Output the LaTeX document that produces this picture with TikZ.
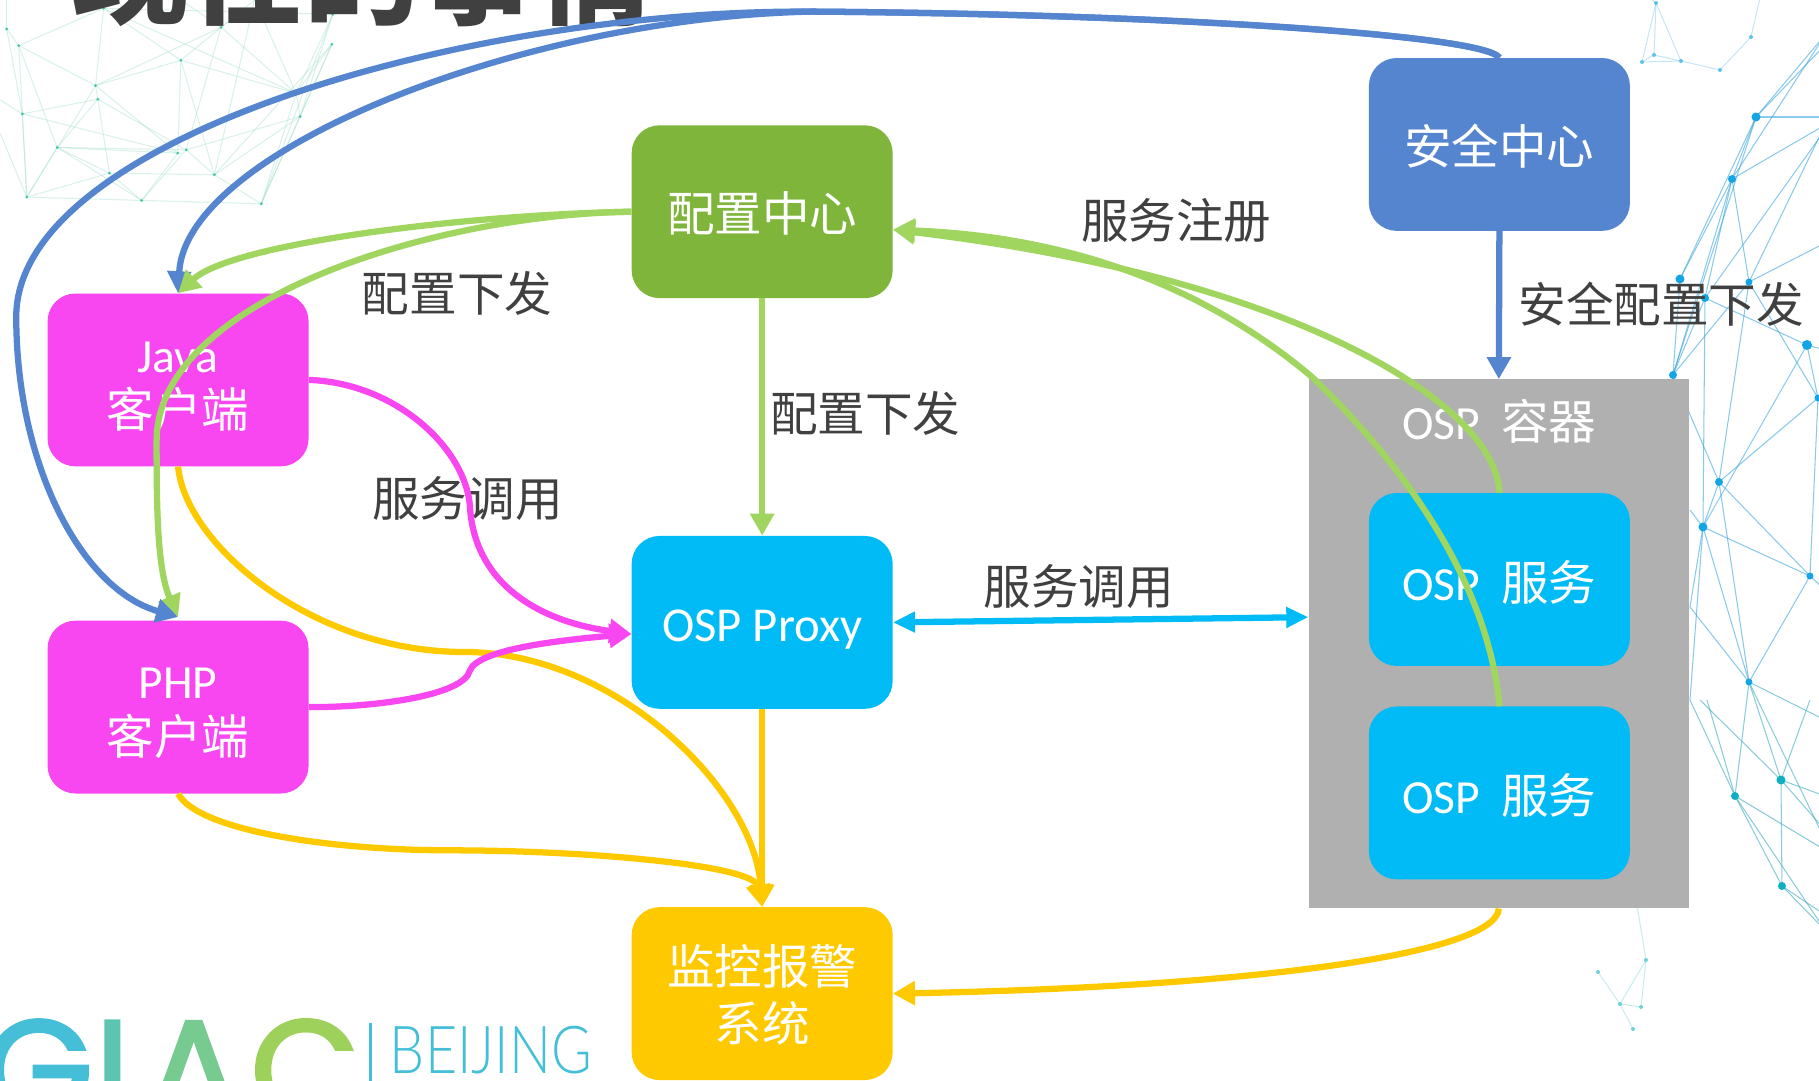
\documentclass[tikz,border=0pt]{standalone}
\usepackage{fontspec}
\usetikzlibrary{arrows.meta,calc}
\setmainfont{Carlito}
\newfontfamily\cj{Noto Sans CJK SC}
\newfontfamily\logofont[FakeBold=2.2]{Poppins}
\newfontfamily\thinfont{Lato Light}
\definecolor{cBlue}{HTML}{5585CF}
\definecolor{cGreen}{HTML}{7FB53B}
\definecolor{cLime}{HTML}{A0D660}
\definecolor{cPink}{HTML}{F847F0}
\definecolor{cCyan}{HTML}{00BBF5}
\definecolor{cYel}{HTML}{FFC900}
\definecolor{cGray}{HTML}{B0B0B0}
\definecolor{cText}{HTML}{404040}
\definecolor{mG}{RGB}{165,222,205}
\definecolor{mGd}{RGB}{60,200,160}
\definecolor{mB}{RGB}{60,165,220}
\definecolor{mBd}{RGB}{20,165,230}
\definecolor{mT}{RGB}{60,170,190}
\definecolor{mTd}{RGB}{15,175,195}
\definecolor{mS}{RGB}{120,195,235}
\definecolor{mSd}{RGB}{90,195,235}
\definecolor{mU}{RGB}{130,210,215}
\definecolor{mUd}{RGB}{110,210,215}
\definecolor{lg1}{RGB}{69,191,216}
\definecolor{lg2}{RGB}{92,196,176}
\definecolor{lg3}{RGB}{120,203,144}
\definecolor{lg4}{RGB}{158,208,92}
\tikzset{
  box/.style={draw=none,rounded corners=24pt,minimum width=225pt,minimum height=149pt,inner sep=0pt},
  boxtext/.style={inner sep=0pt,text=white,align=center,font=\fontsize{41}{47}\selectfont},
  lbl/.style={text=cText,inner sep=0pt,font=\fontsize{41}{47}\selectfont\cj},
  conn/.style={line width=5.4pt},
  tipped/.style={conn,-{Triangle[length=19pt,width=20pt]}},
  both/.style={conn,{Triangle[length=19pt,width=17pt]}-{Triangle[length=19pt,width=17pt]}},
  meshg/.style={line width=.9pt,color=#1,opacity=.6},
  meshl/.style={line width=.9pt,color=#1,opacity=.42},
  logotxt/.style={anchor=base,inner sep=0pt,text=#1,font=\fontsize{122}{122}\selectfont\logofont},
}
\begin{document}
\begin{tikzpicture}[x=1pt,y=-1pt]
\useasboundingbox (0,0) rectangle (1568,931.8);
\clip (0,0) rectangle (1568,931.8);

% left mesh (green)
\begin{scope}[x=.385pt,y=-.287pt]
\foreach \n/\p in {a/{15,87},b/{42,137},c/{232,25},d/{495,82},e/{745,43},f/{743,133},g/{405,181},h/{214,257},i/{219,298},j/{50,342},k/{663,280},l/{672,350},m/{128,443},n/{398,460},o/{417,450},p/{245,520},q/{480,525},r/{60,592},s/{317,602},t/{585,612},u/{0,300},v/{0,400},w/{15,0},x/{-20,87},y/{570,0},z/{405,0}}
  \coordinate (L\n) at (\p);
\foreach \u/\v in {a/b,a/j,a/w,b/c,b/h,b/m,b/r,c/h,c/g,c/k,d/h,d/g,d/o,d/k,d/z,d/y,g/k,g/n,g/h,g/q,h/i,h/n,h/r,i/o,i/p,i/j,i/m,j/r,j/n,u/j,v/r,m/r,m/n,m/o,m/p,m/s,p/q,p/s,p/r,r/s,s/t,s/n,s/o,q/o,q/t,q/l,e/k,e/t,f/k,f/t,f/q,k/l,k/t,l/o,l/t,y/k,y/q,e/l,f/l,c/e}
  \draw[meshl=mG] (L\u)--(L\v);
\foreach \n in {a,b,c,d,e,f,g,h,i,j,k,l,m,n,o,p,q,r,s,t}
  \fill[color=mGd] (L\n) circle [x radius=3.5,y radius=4.5];
\end{scope}

% right mesh
\begin{scope}[x=.862pt,y=-.862pt]
\foreach \n/\p in {A/{1756,117},B/{1732,179},C/{1680,279},D/{1749,282},E/{1705,298},F/{1807,345},G/{1673,375},H/{1818,398},I/{1719,482},J/{1703,527},K/{1810,576},L/{1749,682},M/{1781,780},N/{1735,796},O/{1782,886},T/{1825,35},T2/{1825,45},R1/{1825,117},R2/{1825,125},R3/{1825,130},R4/{1825,243},R5/{1825,350},R6/{1825,590},R7/{1825,720},R8/{1825,796},R9/{1825,830},R10/{1825,850},R11/{1825,930},R12/{1825,915},R13/{1825,840},R14/{1810,700},R15/{1690,700},R16/{1707,700},R17/{1700,700},s1/{1656,3},s2/{1654,55},s3/{1681,61},s4/{1720,70},s5/{1751,37},s6/{1760,-2},s0/{1642,62},s7/{1650,-2},b1/{1646,960},b2/{1598,972},b3/{1620,1004},b4/{1641,1007},b5/{1633,1029},b6/{1637,905},W1/{1690,510},W2/{1690,607},W3/{1690,700}}
  \coordinate (\n) at (\p);
\foreach \u/\v in {T/A,T2/A,T/B,A/R1,A/B,A/C,B/C,A/G,B/G,B/E,B/D,C/G,E/G,D/G,R2/B,R3/E,R2/D,D/R4,E/F,F/R5,D/H,F/H,H/K,E/J,D/I,F/J,H/I,I/K,J/K,K/R6,K/L,J/L,I/L,I/J,G/I,J/W1,J/W2,J/W3,W2/L}
  \draw[meshg=mB] (\u)--(\v);
\foreach \u/\v in {L/R7,L/M,N/L,N/R15,N/R16,M/R17,M/R14,M/O,N/O,N/R10,M/R8,M/R9,O/R11,N/R11,O/R12,L/R13}
  \draw[meshg=mT] (\u)--(\v);
\foreach \u/\v in {s1/s2,s1/s3,s2/s3,s3/s4,s4/s5,s5/s6,s0/s2,s0/s3,s1/s7,s0/s1}
  \draw[meshl=mS] (\u)--(\v);
\foreach \u/\v in {b6/b1,b1/b3,b1/b4,b3/b4,b2/b3,b3/b5}
  \draw[meshl=mU] (\u)--(\v);
\foreach \n/\r in {A/4.5,B/4,C/4.5,D/3.5,E/4,F/5,G/4,H/3.5,I/4,J/4.5,K/3.5,L/3.5}
  \fill[color=mBd] (\n) circle (\r);
\foreach \n/\r in {M/4.5,N/4,O/4}
  \fill[color=mTd] (\n) circle (\r);
\foreach \n in {s1,s2,s3,s4,s5,s0}
  \fill[color=mSd] (\n) circle (2);
\foreach \n in {b1,b2,b3,b4,b5}
  \fill[color=mUd] (\n) circle (2);
\end{scope}

% clipped title
\node[anchor=base west,inner sep=0pt,text=cText,font=\fontsize{100}{100}\selectfont\cj\bfseries] (title) at (62,13) {现在的事情};

% clipped logo
\node[logotxt=lg1] (logoG) at (33,965) {G};
\node[logotxt=lg2] (logoI) at (97,965) {I};
\node[logotxt=lg3] (logoA) at (167,965) {A};
\node[logotxt=lg4] (logoC) at (263,965) {C};
\coordinate (barTop) at (319,882);
\coordinate (barEnd) at (319,935);
\draw[line width=2.6pt,color=lg1] (barTop)--(barEnd);
\node[anchor=base west,inner sep=0pt,xscale=.84,text=lg1,font=\fontsize{57}{57}\selectfont\thinfont] (logoB) at (336,925) {BEIJING};

% boxes
\node[box,fill=cPink] (java) at (153.5,327.5) {};
\node[box,fill=cPink] (php) at (153.5,609.5) {};
\node[box,fill=cGreen] (cfg) at (657,182.5) {};
\node[box,fill=cCyan] (proxy) at (657,536.5) {};
\node[box,fill=cYel] (mon) at (657,856.5) {};
\node[box,fill=cBlue] (sec) at (1292.5,124.5) {};
\node[draw=none,fill=cGray,minimum width=328pt,minimum height=456pt,inner sep=0pt] (cont) at (1292,555) {};
\node[box,fill=cCyan] (svc1) at (1292.5,499.5) {};
\node[box,fill=cCyan] (svc2) at (1292.5,683.5) {};

\node[boxtext] (javaA) at (153.5,308) {Java};
\node[boxtext,font=\fontsize{41}{47}\selectfont\cj] (javaB) at (153.5,353) {客户端};
\node[boxtext] (phpA) at (153.5,589) {PHP};
\node[boxtext,font=\fontsize{41}{47}\selectfont\cj] (phpB) at (153.5,635) {客户端};
\node[boxtext,font=\fontsize{41}{47}\selectfont\cj] (cfgT) at (657,184) {配置中心};
\node[boxtext,font=\fontsize{42}{47}\selectfont] (proxyT) at (657,543) {OSP Proxy};
\node[boxtext,font=\fontsize{41}{47}\selectfont\cj] (monA) at (657,833) {监控报警};
\node[boxtext,font=\fontsize{41}{47}\selectfont\cj] (monB) at (657,882) {系统};
\node[boxtext,font=\fontsize{41}{47}\selectfont\cj] (secT) at (1292.5,126) {安全中心};
\node[boxtext] (contT) at (1292.5,363) {OSP\hspace{18pt}{\cj 容器}};
\node[boxtext] (svc1T) at (1292.5,502) {OSP\hspace{18pt}{\cj 服务}};
\node[boxtext] (svc2T) at (1292.5,686) {OSP\hspace{18pt}{\cj 服务}};

% labels
\node[lbl] (l1) at (394,253) {配置下发};
\node[lbl] (l2) at (746,356) {配置下发};
\node[lbl] (l3) at (1014,190) {服务注册};
\node[lbl] (l4) at (403,430) {服务调用};
\node[lbl] (l5) at (930,506) {服务调用};
\node[lbl] (l6) at (1432,262) {安全配置下发};

% connectors
\draw[tipped,color=cYel] (java.south) .. controls (160,470) and (270,562) .. (400,562) .. controls (530,562) and (650,680) .. (mon.north);
\draw[tipped,color=cYel] (php.south) .. controls (170,715) and (280,733) .. (390,733) .. controls (500,733) and (650,745) .. (mon.north);
\draw[tipped,color=cYel] (proxy.south) -- (mon.north);
\draw[tipped,color=cYel] (cont.south) .. controls (1290,820) and (1100,850) .. (mon.east);

\draw[tipped,color=cPink] (java.east) .. controls (340,330) and (400,385) .. (405,435) .. controls (408,500) and (460,535) .. ($(proxy.west)+(0,10)$);
\draw[tipped,color=cPink] (php.east) .. controls (320,610) and (400,600) .. (405,578) .. controls (412,560) and (480,552) .. ($(proxy.west)+(0,10)$);

\draw[tipped,color=cBlue] (sec.north) .. controls (1280,30) and (1000,12) .. (700,10) .. controls (450,15) and (160,130) .. (java.north);
\draw[tipped,color=cLime] (cfg.west) .. controls (400,185) and (200,210) .. (java.north);
\draw[tipped,color=cLime] (cfg.west) .. controls (370,185) and (135,260) .. (135,380) .. controls (135,430) and (135,490) .. ($(php.north)+(0,-3)$);
\draw[tipped,color=cBlue] (sec.north) .. controls (1280,30) and (1000,12) .. (700,10) .. controls (400,8) and (14,120) .. (14,273) .. controls (14,400) and (70,508) .. ($(php.north)+(0,-3)$);
\draw[tipped,color=cBlue] (sec.south) -- (cont.north);
\draw[tipped,color=cLime] (cfg.south) -- (proxy.north);
\draw[tipped,color=cLime] (svc1.north) .. controls (1290,350) and (1120,240) .. ($(cfg.east)+(0,15.5)$);
\draw[tipped,color=cLime] (svc2.north) .. controls (1285,520) and (1230,420) .. (1131,325) .. controls (1060,265) and (950,205) .. ($(cfg.east)+(0,15.5)$);

\draw[both,color=cCyan] (proxy.east) -- ($(cont.west)+(0,-23)$);
\end{tikzpicture}
\end{document}
